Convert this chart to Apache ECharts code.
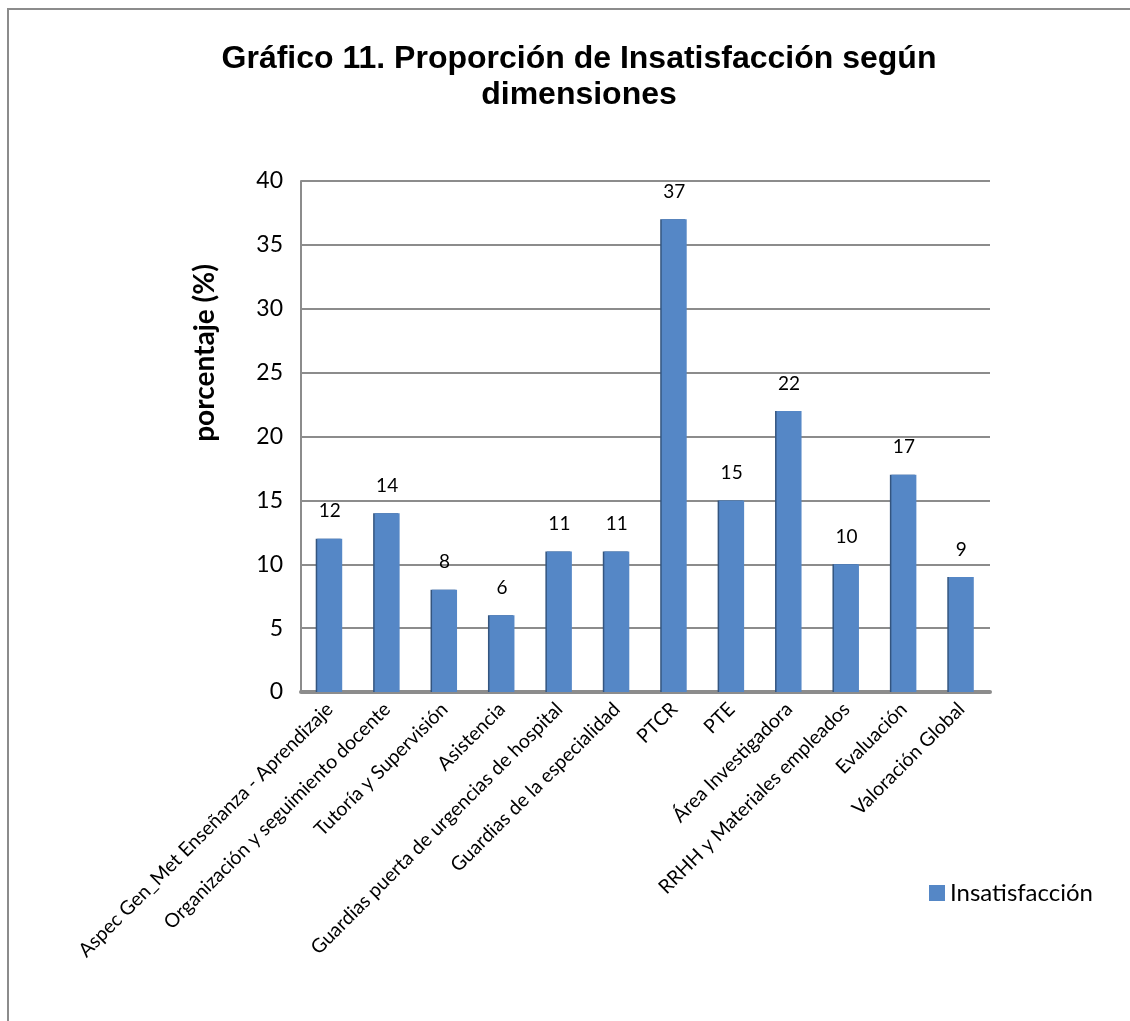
<!DOCTYPE html>
<html>
<head>
<meta charset="utf-8">
<script src="https://cdn.jsdelivr.net/npm/echarts@6/dist/echarts.min.js"></script>
<style>
  html, body { margin: 0; padding: 0; background: #fff; }
  #chart { width: 1130px; height: 1021px; }
</style>
</head>
<body>
<div id="chart"></div>
<script>
// datos
const categories = [
  'Aspec Gen_Met Enseñanza - Aprendizaje',
  'Organización y seguimiento docente',
  'Tutoría y Supervisión',
  'Asistencia',
  'Guardias puerta de urgencias de hospital',
  'Guardias de la especialidad',
  'PTCR',
  'PTE',
  'Área Investigadora',
  'RRHH y Materiales empleados',
  'Evaluación',
  'Valoración Global'
];
const insatisfaccion = [12, 14, 8, 6, 11, 11, 37, 15, 22, 10, 17, 9];

const chart = echarts.init(document.getElementById('chart'));

const option = {
  animation: false,
  title: {
    text: 'Gráfico 11. Proporción de Insatisfacción según\ndimensiones',
    left: 574,
    top: 36,
    textAlign: 'center',
    textStyle: {
      fontFamily: 'Liberation Sans',
      fontSize: 32,
      fontWeight: 'bold',
      color: '#000',
      lineHeight: 36
    }
  },
  graphic: [
    {
      type: 'rect',
      shape: { x: 8, y: 9, width: 1140, height: 1040 },
      style: { fill: 'none', stroke: '#8c8c8c', lineWidth: 2 },
      silent: true
    },
    {
      // nombre del eje Y
      type: 'text',
      x: 205,
      y: 353,
      rotation: Math.PI / 2,
      style: {
        text: 'porcentaje (%)',
        fontFamily: 'Lato',
        fontSize: 28,
        fontWeight: 'bold',
        fill: '#000',
        align: 'center',
        verticalAlign: 'middle'
      },
      silent: true
    }
  ],
  legend: {
    left: 924,
    top: 876,
    itemWidth: 16,
    itemHeight: 16,
    icon: 'rect',
    textStyle: { fontFamily: 'Lato', fontSize: 24, color: '#000' },
    data: ['Insatisfacción']
  },
  grid: { left: 301, top: 181, right: 140, bottom: 329 },
  xAxis: {
    type: 'category',
    data: categories,
    axisLine: { lineStyle: { color: '#8c8c8c', width: 4 } },
    axisTick: { show: false },
    axisLabel: {
      rotate: 45,
      interval: 0,
      margin: 14,
      fontFamily: 'Lato',
      fontSize: 19.5,
      color: '#000'
    }
  },
  yAxis: {
    type: 'value',
    min: 0,
    max: 40,
    interval: 5,
    axisLine: { show: true, lineStyle: { color: '#8c8c8c', width: 2 } },
    axisTick: { show: false },
    splitLine: { lineStyle: { color: '#8c8c8c', width: 2 } },
    axisLabel: { fontFamily: 'Lato', fontSize: 23, color: '#000', margin: 18 }
  },
  series: [
    {
      name: 'Insatisfacción',
      type: 'bar',
      data: insatisfaccion,
      barWidth: 25,
      itemStyle: {
        color: '#5587c6',
        shadowColor: '#34557f',
        shadowOffsetX: -1.5,
        shadowBlur: 0
      },
      label: {
        show: true,
        position: 'top',
        distance: 18,
        fontFamily: 'Lato',
        fontSize: 19,
        color: '#000'
      }
    }
  ]
};

chart.setOption(option);
</script>
</body>
</html>
